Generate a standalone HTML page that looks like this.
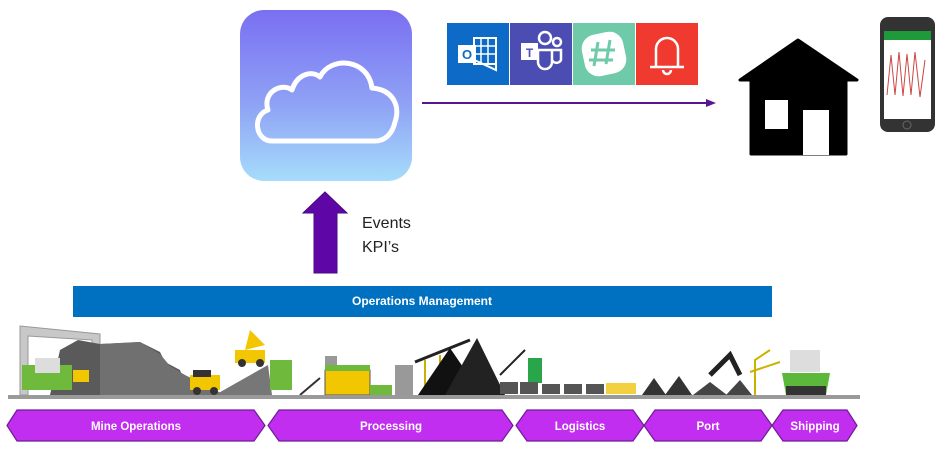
<!DOCTYPE html>
<html><head><meta charset="utf-8"><style>
html,body{margin:0;padding:0;background:#fff;width:947px;height:457px;overflow:hidden}
svg{display:block}
text{font-family:"Liberation Sans",sans-serif}
</style></head><body>
<svg width="947" height="457" viewBox="0 0 947 457" xmlns="http://www.w3.org/2000/svg">
<defs>
<linearGradient id="cg" x1="0" y1="0" x2="0" y2="1">
<stop offset="0" stop-color="#7a6ff2"/><stop offset="0.55" stop-color="#8fa2f5"/><stop offset="1" stop-color="#a6dcfb"/>
</linearGradient>
</defs>
<rect x="240" y="10" width="172" height="171" rx="24" fill="url(#cg)"/>
<path d="M272 141 C255 141 252 115 268 110 C262 92 282 82 292 90 C297 74 312 70 320 77 C330 56 368 58 372 88 C395 90 400 108 395 122 C392 135 384 141 375 141 Z" fill="none" stroke="#fff" stroke-width="5" stroke-linejoin="round"/>
<polygon points="325,192 347,213 337,213 337,273 314,273 314,213 303,213" fill="#5f06a6" stroke="#4a0a80" stroke-width="1"/>
<text x="362" y="228" font-size="16" fill="#222">Events</text>
<text x="362" y="252" font-size="16" fill="#222">KPI’s</text>
<rect x="447" y="23" width="62" height="62" fill="#0d6bc7"/>
<rect x="474" y="38" width="22" height="26" fill="none" stroke="#fff" stroke-width="2"/>
<path d="M481 38v26M488 38v26M474 46h22M474 54h22" stroke="#fff" stroke-width="1.5"/>
<rect x="458" y="45" width="18" height="18" fill="#fff"/>
<text x="467" y="59" font-size="13" font-weight="bold" fill="#0d6bc7" text-anchor="middle">O</text>
<path d="M470 58 l26 12 v-16" fill="none" stroke="#fff" stroke-width="2"/>
<rect x="510" y="23" width="62" height="62" fill="#4b4db3"/>
<rect x="521" y="43" width="17" height="17" fill="#fff"/>
<text x="529.5" y="57" font-size="12" font-weight="bold" fill="#4b4db3" text-anchor="middle">T</text>
<circle cx="545" cy="38" r="6" fill="none" stroke="#fff" stroke-width="2.5"/>
<circle cx="557" cy="42" r="4" fill="none" stroke="#fff" stroke-width="2.5"/>
<path d="M538 50 h14 v12 a7 7 0 0 1 -14 0z M552 50 h9 v10 a5 5 0 0 1 -9 0" fill="none" stroke="#fff" stroke-width="2.5"/>
<rect x="573" y="23" width="62" height="62" fill="#6ecaa9"/>
<rect x="583" y="33" width="42" height="42" rx="14" fill="#fff" transform="rotate(-12 604 54)"/>
<path d="M598 42l-4 24M610 40l-4 24M591 50h24M589 60h24" stroke="#6ecaa9" stroke-width="3"/>
<rect x="636" y="23" width="62" height="62" fill="#f13a2f"/>
<path d="M656 67 v-18 a11 11 0 0 1 22 0 v18 M650 67 h34" fill="none" stroke="#fff" stroke-width="2.5"/>
<path d="M663 70 a4 4 0 0 0 8 0" fill="none" stroke="#fff" stroke-width="2.5"/>
<line x1="422" y1="103" x2="710" y2="103" stroke="#5a168f" stroke-width="2"/>
<polygon points="716,103 706,99 706,107" fill="#5a168f"/>
<polygon points="798,40 857,80 846,80 846,154 751,154 751,80 740,80" fill="#000" stroke="#000" stroke-width="3" stroke-linejoin="round"/>
<rect x="765" y="100" width="23" height="29" fill="#fff"/>
<rect x="803" y="110" width="26" height="45" fill="#fff"/>
<rect x="880" y="17" width="55" height="115" rx="8" fill="#333"/>
<rect x="884" y="31" width="47" height="88" fill="#fff"/>
<rect x="884" y="31" width="47" height="9" fill="#1f9a3a"/>
<polyline points="887,95 891,55 895,95 899,52 903,96 907,54 911,95 915,52 920,97 925,60" fill="none" stroke="#c44" stroke-width="1"/>
<circle cx="907" cy="125" r="4" fill="none" stroke="#666"/>
<rect x="73" y="286" width="699" height="31" fill="#0070c0"/>
<text x="422" y="305" font-size="12" font-weight="bold" fill="#fff" text-anchor="middle">Operations Management</text>
<g>
<path d="M20 326 L100 334 V395 H92 V340 L28 336 V395 H20Z" fill="#c8c8c8" stroke="#999"/>
<polygon points="50,395 60,350 78,340 100,344 140,342 160,352 165,362 180,370 190,395" fill="#5a5a5a"/>
<polygon points="100,344 140,342 160,354 170,366 185,375 225,395 100,395" fill="#707070"/>
<rect x="22" y="365" width="50" height="25" fill="#6fba3d"/>
<rect x="35" y="358" width="25" height="15" fill="#ddd"/>
<rect x="73" y="370" width="16" height="12" fill="#f2c600"/>
<polygon points="215,395 268,365 272,395" fill="#777"/>
<rect x="190" y="375" width="30" height="15" fill="#f2c600"/><rect x="193" y="370" width="18" height="7" fill="#333"/>
<circle cx="197" cy="391" r="4" fill="#333"/><circle cx="214" cy="391" r="4" fill="#333"/>
<rect x="235" y="350" width="30" height="13" fill="#f2c600"/><polygon points="245,350 250,330 265,345" fill="#f2c600"/>
<circle cx="242" cy="363" r="4" fill="#333"/><circle cx="260" cy="363" r="4" fill="#333"/>
<rect x="270" y="360" width="22" height="30" fill="#6fba3d"/>
<path d="M300 395 L320 378" stroke="#333" stroke-width="2"/>
<rect x="325" y="356" width="12" height="22" fill="#999"/>
<rect x="325" y="370" width="45" height="25" fill="#f2c600" stroke="#555"/>
<rect x="325" y="365" width="45" height="6" fill="#6fba3d"/>
<rect x="370" y="385" width="22" height="10" fill="#6fba3d"/>
<rect x="395" y="365" width="18" height="30" fill="#999"/>
<path d="M415 362 L470 340" stroke="#222" stroke-width="3"/>
<path d="M425 360 v35 M440 355 v40" stroke="#c9b300" stroke-width="2"/>
<polygon points="418,395 450,348 482,395" fill="#111"/>
<polygon points="445,395 477,338 505,395" fill="#222"/>
<path d="M500 375 L525 350" stroke="#222" stroke-width="2"/>
<rect x="528" y="358" width="14" height="25" fill="#2aa64a"/>
<rect x="500" y="382" width="18" height="12" fill="#555"/><rect x="520" y="382" width="18" height="12" fill="#555"/>
<rect x="542" y="384" width="18" height="10" fill="#555"/><rect x="564" y="384" width="18" height="10" fill="#555"/><rect x="586" y="384" width="18" height="10" fill="#555"/>
<rect x="606" y="383" width="30" height="11" fill="#f2d040"/>
<polygon points="642,395 654,378 666,395" fill="#333"/><polygon points="665,395 679,376 692,395" fill="#333"/>
<polygon points="693,395 710,382 727,395" fill="#444"/><polygon points="726,395 740,380 752,395" fill="#444"/>
<path d="M710 375 L730 355 L740 375" stroke="#222" stroke-width="5" fill="none"/>
<path d="M755 395 V360 L770 350 M750 372 L780 362" stroke="#c9b300" stroke-width="2" fill="none"/>
<rect x="790" y="350" width="30" height="22" fill="#ddd"/>
<polygon points="782,373 830,373 826,395 786,395" fill="#5cb83a"/>
<rect x="786" y="386" width="40" height="9" fill="#333"/>
<rect x="8" y="395" width="852" height="4" fill="#9a9a9a"/>
</g>
<g fill="#c22ef0" stroke="#6d1c94" stroke-width="1.2">
<polygon points="7,425.5 17,410 254,410 265,425.5 254,441 17,441"/>
<polygon points="268,425.5 279,410 502,410 513,425.5 502,441 279,441"/>
<polygon points="516,425.5 527,410 633,410 644,425.5 633,441 527,441"/>
<polygon points="644,425.5 655,410 761,410 772,425.5 761,441 655,441"/>
<polygon points="772,425.5 783,410 847,410 857,425.5 847,441 783,441"/>
</g>
<g font-size="11.5" font-weight="bold" fill="#fff" text-anchor="middle">
<text x="136" y="430">Mine Operations</text>
<text x="391" y="430">Processing</text>
<text x="580" y="430">Logistics</text>
<text x="708" y="430">Port</text>
<text x="815" y="430">Shipping</text>
</g>
</svg>
</body></html>
